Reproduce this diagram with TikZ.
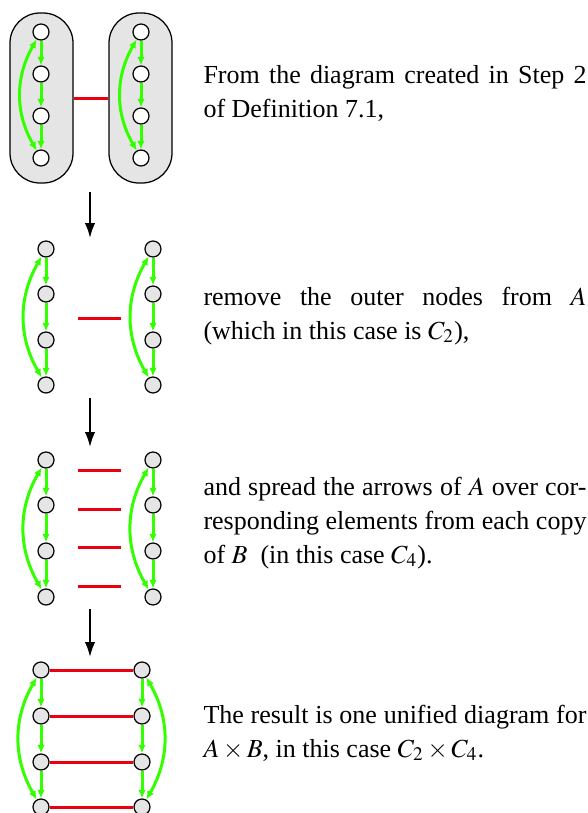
\documentclass[tikz,border=0pt]{standalone}
\usepackage{mathptmx}
\usepackage{fontspec}
\setmainfont{Liberation Serif}
\usetikzlibrary{arrows.meta}
\definecolor{cyclegreen}{RGB}{51,255,0}
\definecolor{linkred}{RGB}{235,0,16}

\begin{document}
\begin{tikzpicture}[x=0.4pt, y=-0.4pt,
  elt/.style={draw, circle, fill=gray!20, minimum size=6.4pt, inner sep=0pt, line width=0.5pt},
  cyc/.style={draw=cyclegreen, line width=1.2pt, -{Latex[length=3.4pt,width=3pt]}},
  cycarc/.style={cyc, {Latex[length=3.4pt,width=3pt]}-{Latex[length=3.4pt,width=3pt]}},
  link/.style={draw=linkred, line width=1.2pt},
  stage/.style={line width=0.8pt, -{Latex[length=6pt,width=4.2pt]}},
  copybox/.style={draw, fill=gray!20, rounded corners=12pt, minimum width=25.2pt,
                  minimum height=68pt, line width=0.5pt},
  remark/.style={anchor=base west, text width=153.2pt, align=justify, inner sep=0pt,
                 font=\fontsize{10.4}{13.6}\selectfont},
]
\useasboundingbox (0,0) rectangle (587,813);

% step 2 diagram
\node[copybox] (lcopy) at (41.5,98) {};
\node[copybox] (rcopy) at (140.5,98) {};
\draw[link] (lcopy) -- (rcopy);
\foreach \y [count=\i] in {32,74,116,158} {
  \node[elt, fill=white] (a\i) at (41,\y) {};
  \node[elt, fill=white] (b\i) at (141,\y) {};
}

% outer nodes removed
\foreach \y [count=\i] in {249,294,340,385} {
  \node[elt] (c\i) at (46,\y) {};
  \node[elt] (d\i) at (153,\y) {};
}
\coordinate (m1) at (78,318);
\coordinate (m2) at (121,318);
\draw[link] (m1) -- (m2);

% arrows spread
\foreach \y [count=\i] in {460,505,551,597} {
  \node[elt] (e\i) at (46,\y) {};
  \node[elt] (f\i) at (153,\y) {};
}
\foreach \y [count=\i] in {470,509,547,586} {
  \coordinate (p\i) at (78,\y);
  \coordinate (q\i) at (121,\y);
  \draw[link] (p\i) -- (q\i);
}

% product
\foreach \y [count=\i] in {670,716,762,807} {
  \node[elt] (g\i) at (41,\y) {};
  \node[elt] (h\i) at (142,\y) {};
}
\foreach \i in {1,...,4}
  \draw[link] (g\i) -- (h\i);

\foreach \c in {a,b,c,d,e,f,g,h} {
  \foreach \i/\j in {1/2,2/3,3/4}
    \draw[cyc] (\c\i) -- (\c\j);
}
\foreach \c in {a,b,c,d,e,f,g}
  \draw[cycarc] (\c4) to[bend left=30] (\c1);
\draw[cycarc] (h4) to[bend right=30] (h1);

\coordinate (s1) at (90,192); \coordinate (t1) at (90,238);
\coordinate (s2) at (90,398); \coordinate (t2) at (90,447);
\coordinate (s3) at (90,609); \coordinate (t3) at (90,657);
\foreach \i in {1,2,3}
  \draw[stage] (s\i) -- (t\i);

\node[remark] (r1) at (203,83) {From the diagram created in Step 2\linebreak of Definition 7.1,};
\node[remark] (r2) at (203,305) {remove the outer nodes from $A$\linebreak (which in this case is $C_2$),};
\node[remark] (r3) at (203,495) {and spread the arrows of $A$ over cor-\linebreak
  responding elements from each copy\linebreak of $B$ \ (in this case $C_4$).};
\node[remark] (r4) at (203,723) {The result is one unified diagram for\linebreak
  $A\times B$, in this case $C_2\times C_4$.};
\end{tikzpicture}
\end{document}
